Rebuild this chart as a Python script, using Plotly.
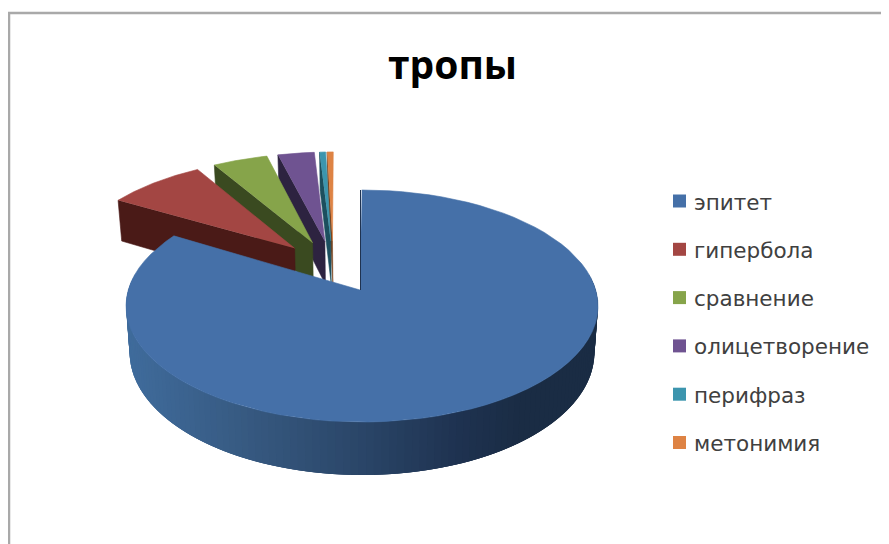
import numpy as np
import plotly.graph_objects as go

categories = ['эпитет', 'гипербола', 'сравнение', 'олицетворение', 'перифраз', 'метонимия']
values = [167, 16, 9, 6, 1, 1]
top_colors = ['#4570a8', '#a34643', '#86a44a', '#6f5391', '#3c95ae', '#de8344']
wall_colors = ['#2a4567', '#4a1a17', '#3a4a20', '#2d2340', '#1c4f5e', '#7a4520']

# projection of the tilted pie
CX, CY = 360, 290
RX, RY = 233.7, 113.8
PERSP = 0.138
DEPTH = 45.7
EXPLODE = 0.245
RIM_SHIFT = 0.0085  # big slice's rim sits a little right of its tip
SMALL_TURN = 0.7  # small slices lean a bit further left than the projection gives

# shading of the big slice's rim, left to right
rim_x = [126, 250, 360, 450, 520, 598]
rim_rgb = [(64, 108, 156), (54, 88, 127), (42, 69, 103), (31, 51, 81), (26, 44, 68), (26, 44, 68)]


def project(px, py, down=False):
    s = 1 / (1 - PERSP * py)
    x = CX + RX * px * s
    y = CY + RY * py * s
    if down:
        x = CX + (x - CX) * 0.985
        y = y + DEPTH * s
    return x, y


def poly(fig, x, y, color, width=0.6):
    fig.add_trace(go.Scatter(x=x, y=y, mode='lines', fill='toself', fillcolor=color,
                             line=dict(color=color, width=width), hoverinfo='skip',
                             showlegend=False))


def draw_slice(fig, start, end, apex, top, wall, shift=0):
    t = np.radians(np.linspace(start, end, 80))
    px = apex[0] + shift + np.sin(t)
    py = apex[1] - np.cos(t)
    if wall:
        # radial wall on the side facing the viewer
        xa, ya = project(px[0], py[0])
        xb, yb = project(apex[0], apex[1])
        xc, yc = project(apex[0], apex[1], down=True)
        xd, yd = project(px[0], py[0], down=True)
        poly(fig, [xa, xb, xc, xd, xa], [ya, yb, yc, yd, ya], wall)
    x, y = project(np.append(px, apex[0]), np.append(py, apex[1]))
    poly(fig, list(x), list(y), top)


fig = go.Figure()

fractions = np.array(values) / sum(values)
edges = np.concatenate([[0], np.cumsum(fractions)]) * 360
mids = np.radians((edges[:-1] + edges[1:]) / 2)
# the big slice keeps its tip at the projection centre
origin = (-EXPLODE * np.sin(mids[0]), EXPLODE * np.cos(mids[0]))

# small slices, back to front
for i in range(len(values) - 1, 0, -1):
    apex = (origin[0] + EXPLODE * np.sin(mids[i]), origin[1] - EXPLODE * np.cos(mids[i]))
    draw_slice(fig, edges[i] - SMALL_TURN, edges[i + 1] - SMALL_TURN, apex, top_colors[i], wall_colors[i])

# rim of the big slice as thin overlapping strips so it can carry a gradient
angles = np.radians(np.linspace(82, 278, 120))
for a0, a1 in zip(angles[:-3], angles[3:]):
    x0, y0 = project(RIM_SHIFT + np.sin(a0), -np.cos(a0))
    x1, y1 = project(RIM_SHIFT + np.sin(a1), -np.cos(a1))
    x2, y2 = project(RIM_SHIFT + np.sin(a1), -np.cos(a1), down=True)
    x3, y3 = project(RIM_SHIFT + np.sin(a0), -np.cos(a0), down=True)
    xm = (x0 + x1) / 2
    rgb = [int(np.interp(xm, rim_x, [c[k] for c in rim_rgb])) for k in range(3)]
    poly(fig, [x0, x1, x2, x3, x0], [y0, y1, y2, y3, y0], 'rgb(%d,%d,%d)' % tuple(rgb), width=0)

draw_slice(fig, edges[0], edges[1], (0, 0), top_colors[0], None, shift=RIM_SHIFT)

# thin dark wall along the vertical cut of the big slice
xa, ya = project(0, -1)
xb, yb = project(0, 0)
fig.add_trace(go.Scatter(x=[xa + 0.5, xb + 0.5], y=[ya, yb], mode='lines',
                         line=dict(color='#1f3351', width=1), hoverinfo='skip', showlegend=False))

# legend
for i, name in enumerate(categories):
    fig.add_trace(go.Scatter(
        x=[679.5], y=[201 + i * 48.3], mode='markers', marker=dict(symbol='square', size=13, color=top_colors[i]),
        hoverinfo='skip', showlegend=False))
    fig.add_annotation(text=name, x=691.5, y=202 + i * 48.3, xanchor='left', showarrow=False,
                       font=dict(family='DejaVu Sans', size=21.5, color='#404040'))

fig.add_shape(type='path', path='M 9 544 L 9 13 L 889 13', line=dict(color='#a9a9a9', width=2.5))

# the page keeps its 8px body margin, so the axes start at 8 to stay on the picture's pixels
fig.update_layout(
    width=881, height=536,
    margin=dict(l=0, r=0, t=0, b=0),
    paper_bgcolor='white', plot_bgcolor='white',
    xaxis=dict(range=[8, 889], visible=False),
    yaxis=dict(range=[544, 8], visible=False),
)
fig.add_annotation(text='<b>тропы</b>', x=452, y=63, showarrow=False,
                   font=dict(family='Open Sans', size=39, color='black'))

fig.write_html("out.html")
